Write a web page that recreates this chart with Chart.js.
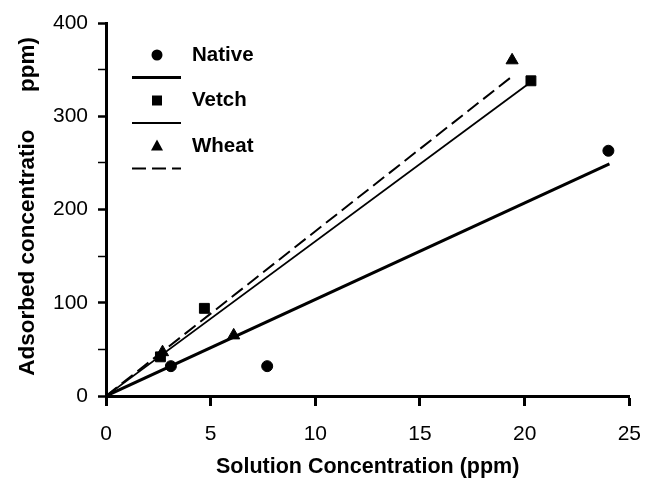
<!DOCTYPE html>
<html>
<head>
<meta charset="utf-8">
<script src="https://cdn.jsdelivr.net/npm/chart.js@4/dist/chart.umd.min.js"></script>
<style>
  html, body { margin: 0; padding: 0; background: #fff; }
  #wrap { width: 657px; height: 487px; }
</style>
</head>
<body>
<div id="wrap"><canvas id="isoChart" width="657" height="487"></canvas></div>
<script>
// measured points (solution ppm vs adsorbed ppm)
const nativeX = [3.1, 7.7, 24.0];
const nativeY = [32, 32, 263];
const vetchX = [2.6, 4.7, 20.3];
const vetchY = [42, 94, 338];
const wheatX = [2.7, 6.1, 19.4];
const wheatY = [47, 65, 360];

// linear fits through the origin
const nativeFitX = [0, 24.05];
const nativeFitY = [0, 249];
const vetchFitX = [0, 20.25];
const vetchFitY = [0, 336];
const wheatFitX = [0, 19.3];
const wheatFitY = [0, 341];

const seriesNames = ['Native', 'Vetch', 'Wheat'];
const xTicks = [0, 5, 10, 15, 20, 25];
const yLabelled = [0, 100, 200, 300, 400];

const toPts = (xs, ys) => xs.map((x, i) => ({ x: x, y: ys[i] }));

const FONT = 'Liberation Sans, Arial, Helvetica, sans-serif';

// hand-drawn legend: symbol + name, then the line sample under it
const legendPlugin = {
  id: 'stackedLegend',
  afterDraw(chart) {
    const ctx = chart.ctx;
    const a = chart.chartArea;
    const styles = [
      { shape: 'circle', width: 3, dash: [] },
      { shape: 'rect', width: 2, dash: [] },
      { shape: 'triangle', width: 2, dash: [14, 6] },
    ];
    ctx.save();
    ctx.fillStyle = '#000';
    ctx.strokeStyle = '#000';
    seriesNames.forEach((name, i) => {
      const my = a.top + 32 + i * 45.5;
      const mx = a.left + 51;
      const s = styles[i];
      ctx.beginPath();
      if (s.shape === 'circle') {
        ctx.arc(mx, my, 5.5, 0, Math.PI * 2);
      } else if (s.shape === 'rect') {
        ctx.rect(mx - 5, my - 5, 10, 10);
      } else {
        ctx.moveTo(mx, my - 6.5);
        ctx.lineTo(mx + 6, my + 4.5);
        ctx.lineTo(mx - 6, my + 4.5);
        ctx.closePath();
      }
      ctx.fill();

      ctx.font = 'bold 20.5px ' + FONT;
      ctx.textBaseline = 'middle';
      ctx.textAlign = 'left';
      ctx.fillText(name, a.left + 86, my);

      const ly = my + 22.5;
      ctx.beginPath();
      ctx.lineWidth = s.width;
      ctx.setLineDash(s.dash);
      ctx.moveTo(a.left + 26, ly);
      ctx.lineTo(a.left + 75, ly);
      ctx.stroke();
      ctx.setLineDash([]);
    });
    ctx.restore();
  }
};

const ctx = document.getElementById('isoChart').getContext('2d');
const isoChart = new Chart(ctx, {
  type: 'scatter',
  data: {
    datasets: [
      {
        label: 'Native fit',
        data: toPts(nativeFitX, nativeFitY),
        showLine: true,
        borderColor: '#000',
        borderWidth: 3,
        pointRadius: 0,
      },
      {
        label: 'Vetch fit',
        data: toPts(vetchFitX, vetchFitY),
        showLine: true,
        borderColor: '#000',
        borderWidth: 1.8,
        pointRadius: 0,
      },
      {
        label: 'Wheat fit',
        data: toPts(wheatFitX, wheatFitY),
        showLine: true,
        borderColor: '#000',
        borderWidth: 2,
        borderDash: [14, 6],
        pointRadius: 0,
      },
      {
        label: 'Native',
        data: toPts(nativeX, nativeY),
        pointStyle: 'circle',
        pointRadius: 5.5,
        backgroundColor: '#000',
        borderColor: '#000',
      },
      {
        label: 'Vetch',
        data: toPts(vetchX, vetchY),
        pointStyle: 'rect',
        pointRadius: 7,
        backgroundColor: '#000',
        borderColor: '#000',
      },
      {
        label: 'Wheat',
        data: toPts(wheatX, wheatY),
        pointStyle: 'triangle',
        pointRadius: 7,
        backgroundColor: '#000',
        borderColor: '#000',
      },
    ],
  },
  options: {
    responsive: false,
    animation: false,
    layout: { padding: { top: 23, right: 15, left: 0, bottom: 0 } },
    plugins: {
      legend: { display: false },
      tooltip: { enabled: false },
    },
    scales: {
      x: {
        type: 'linear',
        min: 0,
        max: 25,
        afterFit: (scale) => { scale.height = 91; },
        afterBuildTicks: (scale) => { scale.ticks = xTicks.map(v => ({ value: v })); },
        border: { display: true, color: '#000', width: 3 },
        grid: { drawOnChartArea: false, tickLength: 10, tickWidth: 3, tickColor: '#000' },
        ticks: { color: '#000', padding: 16, font: { family: FONT, size: 21 } },
        title: {
          display: true,
          text: 'Solution Concentration (ppm)',
          color: '#000',
          font: { family: FONT, size: 21.5, weight: 'bold' },
          padding: { top: 0, bottom: 7 },
        },
      },
      y: {
        type: 'linear',
        min: 0,
        max: 400,
        afterFit: (scale) => { scale.width = 106; },
        border: { display: true, color: '#000', width: 3 },
        grid: {
          drawOnChartArea: false,
          tickLength: 8,
          tickColor: '#000',
          tickWidth: (c) => (yLabelled.includes(c.tick.value) ? 2.5 : 1.5),
        },
        ticks: {
          stepSize: 50,
          color: '#000',
          padding: 10,
          font: { family: FONT, size: 21 },
          callback: (v) => (yLabelled.includes(v) ? String(v) : ''),
        },
        title: {
          display: true,
          text: ' Adsorbed concentratio      ppm)',
          color: '#000',
          font: { family: FONT, size: 22.5, weight: 'bold' },
          padding: { top: 14, bottom: 0 },
        },
      },
    },
  },
  plugins: [legendPlugin],
});
</script>
</body>
</html>
